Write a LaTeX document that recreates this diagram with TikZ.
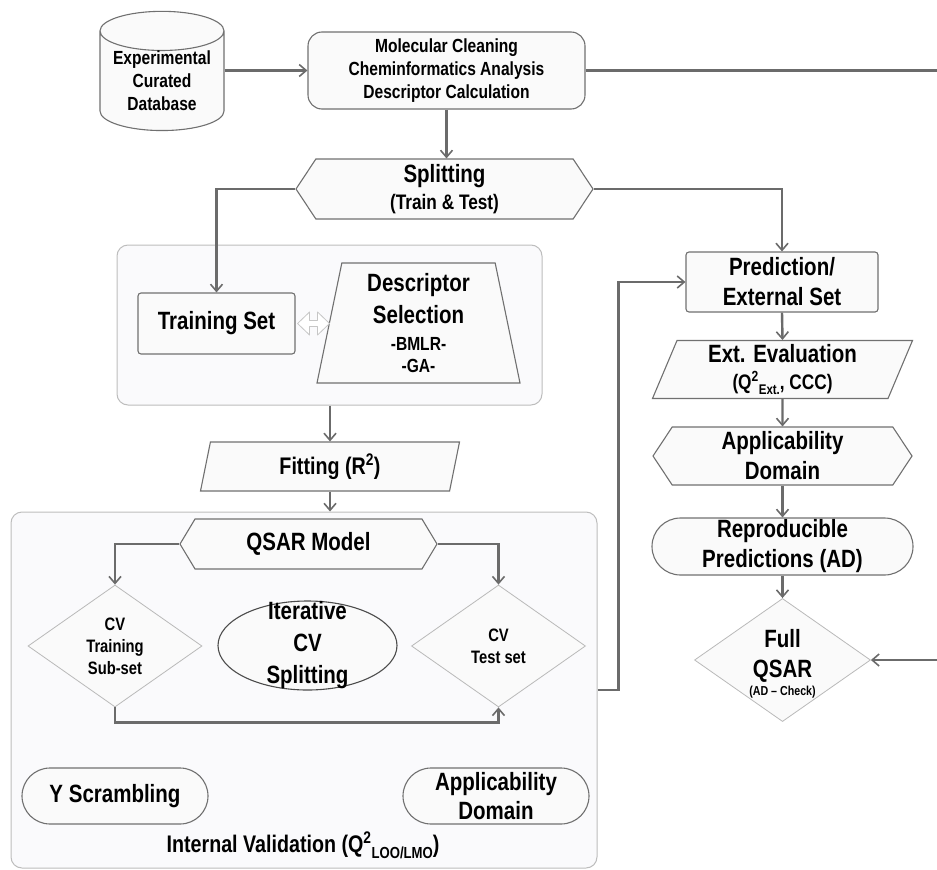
\documentclass[tikz,border=0pt]{standalone}
\usepackage{fontspec}
\setmainfont{Liberation Sans}[FakeStretch=0.82]
\usetikzlibrary{shapes.geometric,shapes.misc,shapes.symbols,arrows.meta}

\definecolor{linegray}{HTML}{6B6B6B}
\definecolor{edgegray}{HTML}{707070}
\definecolor{grpfill}{HTML}{FAFAFC}
\definecolor{grpedge}{HTML}{BDBDBD}

% font size with its own line distance
\newcommand{\fs}[2]{\fontsize{#1}{#2}\selectfont}
\newcommand{\lowtext}[2]{\raisebox{-0.45ex}{\fs{#1}{#1}#2}}

\begin{document}
\begin{tikzpicture}[x=1pt, y=-1pt,
    flow/.style={draw=linegray, line width=2.4pt,
        -{Straight Barb[length=7pt,width=12pt,line width=1.6pt]}},
    hollow/.style={draw=gray!45, fill=white, line width=0.8pt, line join=round},
    shp/.style={draw=edgegray, line width=1.1pt, fill=gray!4, align=center,
        inner sep=0pt, font=\bfseries},
    grp/.style={draw=grpedge, line width=1pt, fill=grpfill, rounded corners=11pt,
        inner sep=0pt},
    hexa/.style={shp, signal, signal to=west and east},
    parall/.style={shp, trapezium, trapezium stretches body},
    dia/.style={shp, diamond, draw=gray!55, line width=0.8pt, aspect=1.43},
    stadium/.style={shp, rounded rectangle}]
    \useasboundingbox (0,0) rectangle (937,870);

    % groups behind everything
    \node[grp, minimum width=425, minimum height=160] (grpfit) at (329.5,325) {};
    \node[grp, minimum width=586, minimum height=356] (grpval) at (304,690) {};

    % top row
    \node[shp, cylinder, shape border rotate=90, aspect=0.4, minimum width=124,
        minimum height=118, font=\bfseries\fs{19}{23}] (db) at (162,81)
        {Experimental\\Curated\\Database};
    \node[shp, rounded corners=14pt, minimum width=277, minimum height=77,
        font=\bfseries\fs{19}{23}] (mol) at (446.5,70.5)
        {Molecular Cleaning\\Cheminformatics Analysis\\Descriptor Calculation};
    \node[hexa, signal pointer angle=113, minimum width=297, minimum height=60,
        font=\bfseries\fs{25}{27}] (split) at (444.5,189)
        {Splitting\\\fs{21}{27}(Train \& Test)};

    % model building
    \node[shp, rounded corners=3pt, minimum width=157, minimum height=61,
        font=\bfseries\fs{25}{30}] (train) at (216.5,323.5) {Training Set};
    \node[shp, trapezium, trapezium left angle=76, trapezium right angle=76,
        trapezium stretches body, minimum width=203, minimum height=120,
        font=\bfseries\fs{25}{22}] (desc) at (418.5,323)
        {Descriptor\\[8pt]Selection\\[5pt]\fs{19}{22}-BMLR-\\\fs{19}{22}-GA-};
    \draw[hollow] (train.east) ++(2,0) -- ++(12,-11.5) -- ++(0,8.5) -- ++(8,0)
        -- ++(0,-8.5) -- ++(12,11.5) -- ++(-12,11.5) -- ++(0,-8.5) -- ++(-8,0)
        -- ++(0,8.5) -- cycle;  % hollow double arrow
    \node[parall, trapezium left angle=69, trapezium right angle=111,
        minimum width=259, minimum height=49, font=\bfseries\fs{24}{28}]
        (fit) at (330,466.5) {Fitting (R\textsuperscript{2})};

    % internal validation
    \node[hexa, signal pointer angle=118, minimum width=257, minimum height=50,
        font=\bfseries\fs{25}{30}] (qsar) at (308.5,544) {QSAR Model};
    \node[dia, minimum width=174, minimum height=122, font=\bfseries\fs{18}{22}]
        (cvtrain) at (115,646) {CV\\Training\\Sub-set};
    \node[shp, ellipse, draw=gray!60!black, minimum width=179, minimum height=89]
        (iter) at (307.5,645.5) {};
    \node[align=center, font=\bfseries\fs{25}{32}] (itertext) at (iter) {Iterative\\CV\\Splitting};
    \node[dia, minimum width=174, minimum height=122, font=\bfseries\fs{18}{22}]
        (cvtest) at (498.5,646) {CV\\Test set};
    \node[stadium, minimum width=186, minimum height=56, font=\bfseries\fs{25}{30}]
        (yscr) at (115,796) {Y Scrambling};
    \node[stadium, minimum width=186, minimum height=56, font=\bfseries\fs{25}{29}]
        (adin) at (496,796) {Applicability\\Domain};
    \node[font=\bfseries\fs{24}{28}] (ivlabel) at (303,845)
        {Internal Validation (Q\textsuperscript{2}\lowtext{16}{LOO/LMO})};

    % external side
    \node[shp, rounded corners=3pt, minimum width=192, minimum height=60,
        font=\bfseries\fs{25}{30}] (pred) at (782,282) {Prediction/\\External Set};
    \node[parall, trapezium left angle=64, trapezium right angle=116,
        minimum width=260, minimum height=58, font=\bfseries\fs{25}{27}]
        (exteval) at (782.5,369.5)
        {Ext. Evaluation\\\fs{21}{27}(Q\textsuperscript{2}\lowtext{14}{Ext.}, CCC)};
    \node[hexa, signal pointer angle=113, minimum width=259, minimum height=58,
        font=\bfseries\fs{25}{30}] (adout) at (782.5,456) {Applicability\\Domain};
    \node[stadium, minimum width=261, minimum height=57, font=\bfseries\fs{25}{30}]
        (repro) at (782.5,546.5) {Reproducible\\Predictions (AD)};
    \node[dia, minimum width=173, minimum height=120, font=\bfseries\fs{25}{30}]
        (full) at (782.5,660)
        {{}\\[-4pt]Full\\QSAR\\[-12pt]\fs{13}{21}(AD \textendash{} Check)};

    % connectors
    \draw[flow] (mol.west -| db.east) -- (mol.west);
    \draw[flow] (mol.south) -- (mol.south |- split.north);
    \draw[flow] (mol.east) -- (939,70.5) |- (full.east);  % runs off the page
    \draw[flow] (split.west) -| (train.north);
    \draw[flow] (split.east) -| (pred.north);
    \draw[flow] (grpfit.south -| fit.north) -- (fit.north);
    \draw[flow] (fit.south) -- (fit.south |- grpval.north);
    \draw[flow] (qsar.west) -| (cvtrain.north);
    \draw[flow] (qsar.east) -| (cvtest.north);
    \draw[flow] (cvtrain.south) -- ++(0,15) -| (cvtest.south);
    \draw[flow] (grpval.east) -- ++(21,0) |- (pred.west);
    \draw[flow] (pred.south) -- (exteval.north);
    \draw[flow] (exteval.south) -- (adout.north);
    \draw[flow] (adout.south) -- (repro.north);
    \draw[flow] (repro.south) -- (full.north);
\end{tikzpicture}
\end{document}
